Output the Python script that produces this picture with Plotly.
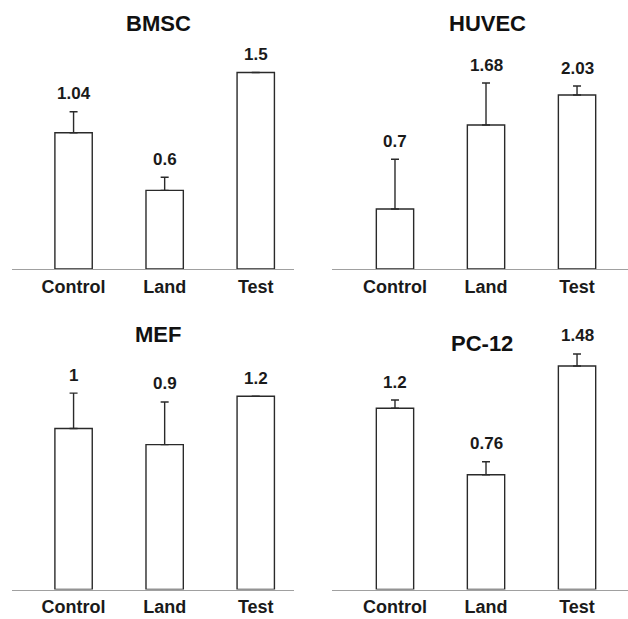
import plotly.graph_objects as go

categories = ["Control", "Land", "Test"]

panel_titles = ["BMSC", "HUVEC", "MEF", "PC-12"]
bmsc_values = [1.04, 0.6, 1.5]
bmsc_errors = [0.16, 0.10, 0.0]
huvec_values = [0.7, 1.68, 2.03]
huvec_errors = [0.58, 0.49, 0.105]
mef_values = [1.0, 0.9, 1.2]
mef_errors = [0.22, 0.265, 0.0]
pc12_values = [1.2, 0.76, 1.48]
pc12_errors = [0.055, 0.086, 0.08]

W, H = 628, 619

panels = [
    # values, errors, x-domain px, baseline px, top px, x-range, y max, title pos px
    (bmsc_values, bmsc_errors, (12, 294), 269, 0, (-0.676, 2.42), 269 / 131.0, (158, 23)),
    (huvec_values, huvec_errors, (332, 628), 269, 0, (-0.692, 2.56), 269 / 85.7, (487, 24)),
    (mef_values, mef_errors, (12, 294), 589.5, 309, (-0.676, 2.42), 280.5 / 161.0, (158, 334)),
    (pc12_values, pc12_errors, (332, 628), 589.5, 309, (-0.692, 2.56), 280.5 / 151.0, (482, 343)),
]

fig = go.Figure()
annotations = []
font_family = "Liberation Sans, Arial, sans-serif"

for i, (vals, errs, xd, base, top, xr, ymax, tpos) in enumerate(panels):
    n = i + 1
    xa = "x" if n == 1 else f"x{n}"
    ya = "y" if n == 1 else f"y{n}"
    fig.add_trace(go.Bar(
        x=list(range(len(categories))), y=vals,
        xaxis=xa, yaxis=ya,
        width=0.41,
        marker=dict(color="white", line=dict(color="#2a2a2a", width=1.4)),
        error_y=dict(type="data", symmetric=False, array=errs,
                     arrayminus=[0] * len(errs), color="#2a2a2a",
                     thickness=1.4, width=4),
        showlegend=False, hoverinfo="skip",
    ))
    for j, (v, e) in enumerate(zip(vals, errs)):
        annotations.append(dict(
            x=j, y=v + e, xref=xa, yref=ya, text=f"<b>{v:g}</b>",
            showarrow=False, yanchor="middle", yshift=18,
            font=dict(family=font_family, size=17, color="#1a1a1a"),
        ))
    annotations.append(dict(
        x=tpos[0] / W, y=1 - tpos[1] / H, xref="paper", yref="paper",
        text=f"<b>{panel_titles[i]}</b>", showarrow=False,
        xanchor="center", yanchor="middle",
        font=dict(family=font_family, size=22, color="#111111"),
    ))
    xkey = "xaxis" if n == 1 else f"xaxis{n}"
    ykey = "yaxis" if n == 1 else f"yaxis{n}"
    fig.update_layout(**{
        xkey: dict(
            domain=[xd[0] / W, xd[1] / W], range=list(xr), anchor=ya,
            tickvals=list(range(len(categories))),
            ticktext=[f"<b>{c}</b>" for c in categories],
            showline=True, linecolor="#a0a0a0", linewidth=1.2,
            showgrid=False, zeroline=False, ticks="outside", ticklen=1,
            tickcolor="rgba(0,0,0,0)",
            tickfont=dict(family=font_family, size=18, color="#1a1a1a"),
            fixedrange=True,
        ),
        ykey: dict(
            domain=[1 - base / H, 1 - top / H], range=[0, ymax], anchor=xa,
            visible=False, showgrid=False, zeroline=False, fixedrange=True,
        ),
    })

fig.update_layout(
    width=W, height=H,
    margin=dict(l=0, r=0, t=0, b=0),
    paper_bgcolor="white", plot_bgcolor="white",
    annotations=annotations,
    bargap=0.5,
)

fig.write_html(
    "out.html",
    config={"displayModeBar": False, "staticPlot": True},
    post_script="document.body.style.margin='0';document.body.style.overflow='hidden';",
)
